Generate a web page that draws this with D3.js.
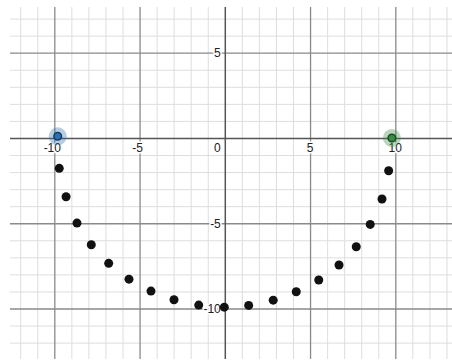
<!DOCTYPE html>
<html>
<head>
<meta charset="utf-8">
<script src="https://cdn.jsdelivr.net/npm/d3@7"></script>
<style>
  html, body { margin: 0; padding: 0; background: #fff; }
  svg { display: block; }
  text { font-family: "Liberation Sans", Arial, sans-serif; font-size: 12px; fill: #222; }
</style>
</head>
<body>
<svg id="chart" width="452" height="363"></svg>
<script>
// ---- data ----
const xTickLabels = [-10, -5, 5, 10];
const yTickLabels = [5, -5, -10];
const pointX = [-9.71, -9.31, -8.67, -7.83, -6.81, -5.62, -4.33, -2.98, -1.53, -0.03,
                1.40, 2.84, 4.19, 5.51, 6.70, 7.71, 8.53, 9.22, 9.61];
const pointY = [-1.78, -3.45, -4.99, -6.26, -7.35, -8.28, -8.98, -9.49, -9.80, -9.92,
                -9.82, -9.51, -9.02, -8.33, -7.45, -6.38, -5.07, -3.58, -1.92];
const startPoint = [-9.8, 0.1];
const endPoint = [9.8, 0.0];

// ---- layout ----
const padL = 10, padT = 7, padR = 452, padB = 359;

const x = d3.scaleLinear().domain([-10, 10]).range([54.3, 395.3]);
const y = d3.scaleLinear().domain([-10, 5]).range([308.5, 52.7]);

const svg = d3.select("#chart");

const xMin = Math.ceil(x.invert(padL)), xMax = Math.floor(x.invert(padR));
const yMin = Math.ceil(y.invert(padB)), yMax = Math.floor(y.invert(padT));
const xAll = d3.range(xMin, xMax + 1);
const yAll = d3.range(yMin, yMax + 1);
const xMinor = xAll.filter(v => v % 5 !== 0);
const yMinor = yAll.filter(v => v % 5 !== 0);
const xMajor = xAll.filter(v => v % 5 === 0 && v !== 0);
const yMajor = yAll.filter(v => v % 5 === 0 && v !== 0);

function gridV(vals, color, width) {
  const g = svg.append("g")
    .attr("transform", `translate(0,${padB})`)
    .call(d3.axisBottom(x).tickValues(vals).tickSize(-(padB - padT)).tickFormat(""));
  g.select(".domain").remove();
  g.selectAll("line").attr("stroke", color).attr("stroke-width", width);
}
function gridH(vals, color, width) {
  const g = svg.append("g")
    .attr("transform", `translate(${padL},0)`)
    .call(d3.axisLeft(y).tickValues(vals).tickSize(-(padR - padL)).tickFormat(""));
  g.select(".domain").remove();
  g.selectAll("line").attr("stroke", color).attr("stroke-width", width);
}

gridV(xMinor, "#dedede", 1);
gridH(yMinor, "#dedede", 1);
gridV(xMajor, "#8a8a8a", 1.3);
gridH(yMajor, "#8a8a8a", 1.3);
gridV([0], "#555", 1.5);
gridH([0], "#555", 1.5);

// ---- labels ----
const halo = sel => sel.attr("stroke", "#fff").attr("stroke-width", 3)
  .attr("stroke-linejoin", "round").attr("paint-order", "stroke");

svg.append("g").selectAll("text").data(xTickLabels).join("text")
  .attr("x", d => x(d) + (d < 0 ? -2 : 0))
  .attr("y", y(0) + 14)
  .attr("text-anchor", "middle")
  .text(d => d)
  .call(halo);

svg.append("text")
  .attr("x", x(0) - 4).attr("y", y(0) + 14)
  .attr("text-anchor", "end").text("0").call(halo);

svg.append("g").selectAll("text").data(yTickLabels).join("text")
  .attr("x", x(0) - 4)
  .attr("y", d => y(d) + 4.3)
  .attr("text-anchor", "end")
  .text(d => d)
  .call(halo);

// ---- points ----
const pts = pointX.map((v, i) => [v, pointY[i]]);
svg.append("g").selectAll("circle").data(pts).join("circle")
  .attr("cx", d => x(d[0])).attr("cy", d => y(d[1]))
  .attr("r", 4.5).attr("fill", "#111");

function special(p, fill, haloColor, stroke) {
  svg.append("circle").attr("cx", x(p[0])).attr("cy", y(p[1]))
    .attr("r", 9).attr("fill", haloColor).attr("fill-opacity", 0.35);
  svg.append("circle").attr("cx", x(p[0])).attr("cy", y(p[1]))
    .attr("r", 3.8).attr("fill", fill).attr("stroke", stroke).attr("stroke-width", 1.5);
}
special(startPoint, "#2d70b3", "#2d70b3", "#163a5e");
special(endPoint, "#388c46", "#388c46", "#1c4a24");
</script>
</body>
</html>
